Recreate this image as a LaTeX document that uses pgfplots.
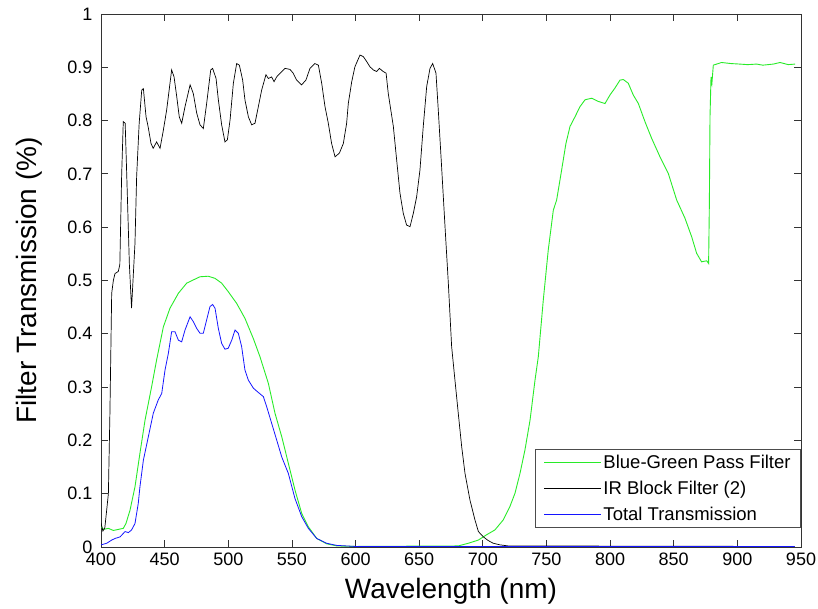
\documentclass[border=0pt]{standalone}
\usepackage{pgfplots}
\pgfplotsset{compat=1.18}
\usepackage{fontspec}
\setmainfont{Liberation Sans}
\definecolor{mgreen}{RGB}{40,235,40}
\definecolor{mblue}{RGB}{20,20,255}
\begin{document}
\begin{tikzpicture}[x=1pt,y=1pt]
\useasboundingbox (0,0) rectangle (818,609);
\begin{axis}[
  at={(101pt,62pt)}, anchor=south west,
  scale only axis, width=700pt, height=533pt,
  xmin=400, xmax=950, ymin=0, ymax=1,
  xtick={400,450,...,950},
  ytick={0,0.1,...,1},
  yticklabels={0,0.1,0.2,0.3,0.4,0.5,0.6,0.7,0.8,0.9,1},
  tick align=inside,
  major tick length=7pt,
  axis line style={black!80, line width=0.8pt},
  every tick/.style={black!80, line width=0.8pt},
  /pgf/number format/assume math mode=true,
  tick label style={font=\fontsize{18}{18}\selectfont},
  xticklabel style={yshift=-2pt},
  yticklabel style={xshift=-5pt},
  xlabel={Wavelength (nm)},
  ylabel={Filter Transmission (\%)},
  label style={font=\fontsize{28}{28}\selectfont},
  xlabel style={yshift=-6pt},
  ylabel style={yshift=18pt},
  legend cell align=left,
  legend style={at={(1,0.036)}, anchor=south east, draw=black!70, line width=0.8pt,
    font=\fontsize{18.5}{22}\selectfont, inner xsep=8pt, inner ysep=0pt,
    nodes={inner ysep=5.6pt}},
  legend image code/.code={\draw[line width=0.9pt,#1] (0pt,0pt) -- (57pt,0pt);},
]
\addplot[draw=mgreen, line width=0.9pt] coordinates {
(400,0.038) (402,0.033) (405.8,0.035) (409.7,0.031) (413.6,0.033) (417.5,0.035)
(419.6,0.044) (422.8,0.069) (426.7,0.113) (430.6,0.176) (434.6,0.238) (439.8,0.301)
(443.7,0.351) (449,0.413) (454.2,0.448) (460.8,0.476) (467.3,0.495) (472.5,0.501)
(477.8,0.507) (484.3,0.508) (489.6,0.504) (494.8,0.495) (500,0.479) (506.6,0.457)
(513.1,0.429) (519.7,0.391) (524.9,0.357) (531.5,0.307) (536.7,0.251) (542,0.207)
(547.2,0.157) (552.4,0.107) (557.7,0.063) (562.9,0.038) (569.5,0.016) (577.3,0.006)
(585.2,0.002) (600,0.001) (680.7,0.002) (688.6,0.007) (696.5,0.013) (703,0.023)
(709.5,0.032) (716.1,0.051) (721.3,0.076) (725.3,0.101) (729.2,0.138) (733.1,0.182)
(737.1,0.238) (741,0.313) (743.6,0.357) (747.5,0.463) (751.4,0.557) (755.4,0.632)
(758,0.651) (761.9,0.707) (765.3,0.757) (768.5,0.789) (772.4,0.807) (776.3,0.826)
(780.3,0.839) (785.5,0.842) (790.7,0.836) (796,0.832) (799.9,0.848) (803.8,0.861)
(807.8,0.876) (810.4,0.877) (814.3,0.87) (818.2,0.848) (822.2,0.832) (827.4,0.798)
(832.6,0.767) (839.2,0.732) (845.7,0.701) (852.3,0.651) (858.8,0.617) (864.1,0.582)
(868,0.551) (871.9,0.535) (875.9,0.537) (877.4,0.532) (878,0.645) (878.5,0.807)
(879.3,0.882) (880,0.87) (881.1,0.904) (887.6,0.909) (895,0.907) (902,0.906)
(908,0.905) (915.1,0.906) (920,0.904) (928.2,0.906) (933.5,0.909) (940,0.905) (945.3,0.906)
};
\addlegendentry{Blue-Green Pass Filter}
\addplot[draw=black, line width=0.7pt] coordinates {
(400,0.045) (401.5,0.030) (403,0.036) (404.5,0.07) (405.8,0.10) (407,0.25) (408.4,0.476)
(409.7,0.50) (411,0.513) (413.6,0.517) (414.8,0.53) (416.2,0.695) (417.5,0.798) (419,0.795)
(420.7,0.66) (422.3,0.53) (424,0.448) (426.7,0.57) (428,0.695) (430,0.795) (432,0.857)
(433.3,0.86) (435.4,0.807) (437,0.789) (439.3,0.757) (441,0.748) (443.7,0.76) (446.4,0.748)
(449,0.782) (451.6,0.82) (455.5,0.895) (457.4,0.882) (459.5,0.845) (461.5,0.807) (463.4,0.795)
(466,0.826) (470,0.867) (472.5,0.851) (475.2,0.814) (477.8,0.792) (480.4,0.785) (483,0.832)
(486.2,0.895) (487.7,0.898) (490.4,0.879) (492.2,0.839) (494.8,0.792) (497.4,0.76) (499.3,0.764)
(501.4,0.801) (504,0.87) (506.6,0.907) (508.7,0.904) (511.3,0.876) (513.1,0.839) (515.8,0.807)
(518.4,0.792) (521,0.795) (523.6,0.826) (526.2,0.857) (529.6,0.886) (531.5,0.879) (534,0.882)
(536,0.873) (538,0.882) (542,0.892) (544.6,0.898) (548.5,0.896) (551,0.889) (553.7,0.876)
(557.6,0.867) (561,0.876) (564.2,0.898) (568,0.907) (570.8,0.904) (573.4,0.87) (576,0.826)
(578.6,0.795) (581.2,0.757) (583.9,0.732) (587.3,0.739) (590.4,0.757) (593,0.795) (594.3,0.832)
(597,0.873) (599.5,0.901) (603.5,0.923) (606.1,0.92) (608.7,0.911) (611.3,0.901) (614,0.895)
(616.6,0.892) (618.7,0.898) (621.8,0.892) (624,0.889) (625.7,0.851) (629.7,0.789) (632.3,0.726)
(634.9,0.664) (637.5,0.626) (640.1,0.604) (642.8,0.601) (645.4,0.626) (648,0.657) (650.6,0.707)
(653.2,0.789) (655.9,0.864) (658.5,0.898) (660.6,0.907) (663.2,0.889) (665,0.82) (667.6,0.714)
(670.3,0.601) (672.9,0.495) (675.5,0.376) (678.1,0.313) (680.7,0.251) (683.4,0.188) (686,0.138)
(689.9,0.088) (693.8,0.051) (696.5,0.029) (700.4,0.019) (704.3,0.012) (708.2,0.007) (713.5,0.004)
(720,0.002) (945,0.001)
};
\addlegendentry{IR Block Filter (2)}
\addplot[draw=mblue, line width=0.8pt] coordinates {
(400,0.004) (404.5,0.007) (408.4,0.013) (411,0.016) (415,0.019) (418.9,0.029) (421.5,0.027)
(424,0.032) (426.7,0.044) (429.3,0.082) (430.6,0.113) (433.3,0.163) (437.2,0.207) (441.1,0.251)
(445,0.276) (447.7,0.288) (450.3,0.332) (452.9,0.363) (455.5,0.404) (458.1,0.404) (460.8,0.388)
(463.4,0.385) (466,0.407) (470,0.432) (472.5,0.423) (475.2,0.41) (477.8,0.401) (480.4,0.401)
(483,0.426) (485.6,0.451) (487.7,0.455) (489.6,0.448) (492.2,0.41) (494.8,0.382) (497.4,0.371)
(500,0.373) (502.7,0.388) (505.3,0.407) (507.9,0.401) (510.5,0.376) (513.1,0.332) (515.8,0.313)
(519.7,0.298) (523.6,0.29) (527.6,0.282) (530.2,0.263) (534.1,0.232) (538,0.201) (542,0.169)
(547.2,0.138) (552.4,0.091) (557.7,0.057) (562.9,0.035) (569.5,0.016) (577.3,0.007) (585.2,0.003)
(600,0.001) (945,0.001)
};
\addlegendentry{Total Transmission}
\end{axis}
\end{tikzpicture}
\end{document}
